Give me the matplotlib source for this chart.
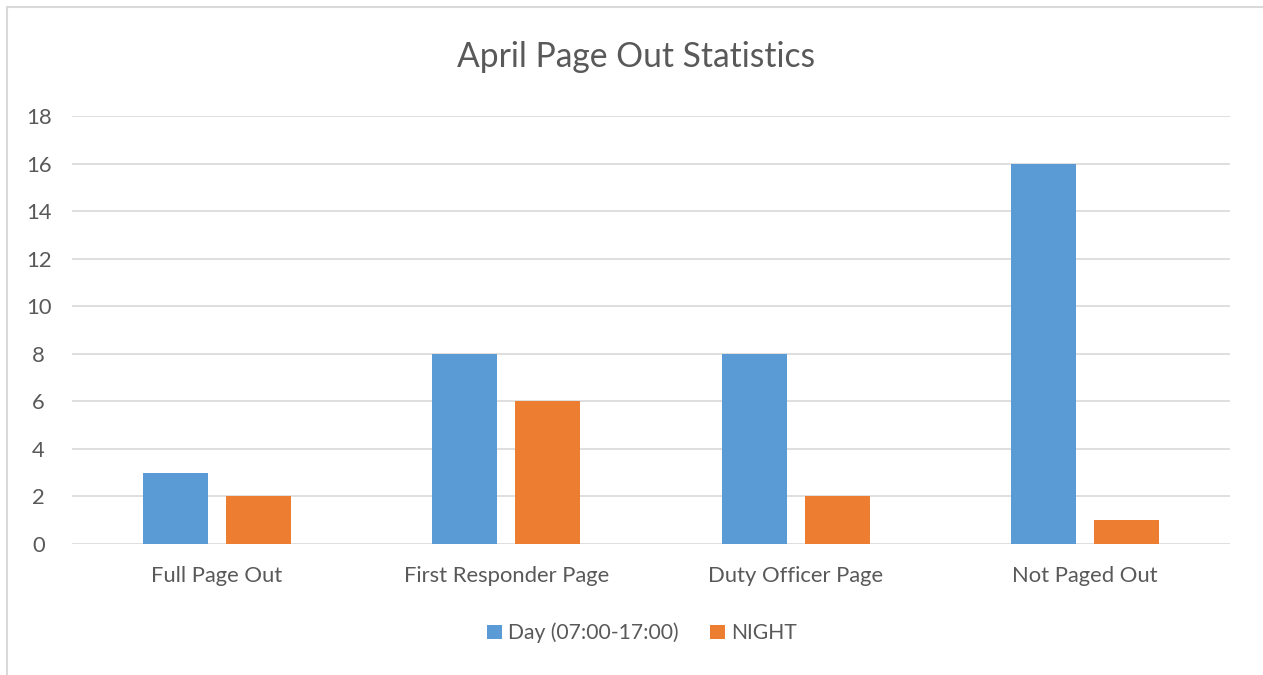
import matplotlib.pyplot as plt
from matplotlib.patches import Rectangle
import numpy as np

categories = ["Full Page Out", "First Responder Page", "Duty Officer Page", "Not Paged Out"]
day_values = [3, 8, 8, 16]
night_values = [2, 6, 2, 1]
series_names = ["Day (07:00-17:00)", "NIGHT"]
y_ticks = list(range(0, 19, 2))

BLUE = "#5B9BD5"
ORANGE = "#ED7D31"
GRID = "#D9D9D9"
TEXT = "#595959"

plt.rcParams["font.family"] = ["Lato", "DejaVu Sans"]

W, H = 1263, 675
fig = plt.figure(figsize=(W / 100, H / 100), dpi=100)
ax = fig.add_axes([72 / W, 1 - 544 / H, 1158 / W, 428 / H])

# light frame around the chart area (only top/left visible in the original)
fig.patches.append(Rectangle((7 / W, -0.05), 1.1, 1 - 7 / H + 0.05,
                             transform=fig.transFigure, fill=False,
                             edgecolor=GRID, linewidth=1.5))

x = np.arange(len(categories))
width = 0.224
offset = 0.143
ax.bar(x - offset, day_values, width, color=BLUE, label=series_names[0], zorder=3)
ax.bar(x + offset, night_values, width, color=ORANGE, label=series_names[1], zorder=3)

ax.set_xlim(-0.5, len(categories) - 0.5)
ax.set_ylim(0, 18)
ax.set_yticks(y_ticks)
ax.set_xticks(x)
ax.set_xticklabels(categories)
ax.tick_params(axis="both", length=0, labelsize=15.8, colors=TEXT)
ax.tick_params(axis="y", pad=24)
ax.tick_params(axis="x", pad=16)
for lbl in ax.get_yticklabels():
    lbl.set_horizontalalignment("center")
ax.grid(axis="y", color=GRID, linewidth=1.2, zorder=0)
for s in ax.spines.values():
    s.set_visible(False)

fig.text(636 / W, 1 - 57 / H, "April Page Out Statistics", ha="center", va="center",
         fontsize=24.2, color=TEXT)

leg = fig.legend(loc="center", bbox_to_anchor=(642 / W, 1 - 633 / H), ncol=2,
                 frameon=False, fontsize=15.2, handlelength=0.7, handleheight=0.7,
                 handletextpad=0.3, columnspacing=1.5)
for t in leg.get_texts():
    t.set_color(TEXT)

fig.savefig("out.png", dpi=100, facecolor="white")
